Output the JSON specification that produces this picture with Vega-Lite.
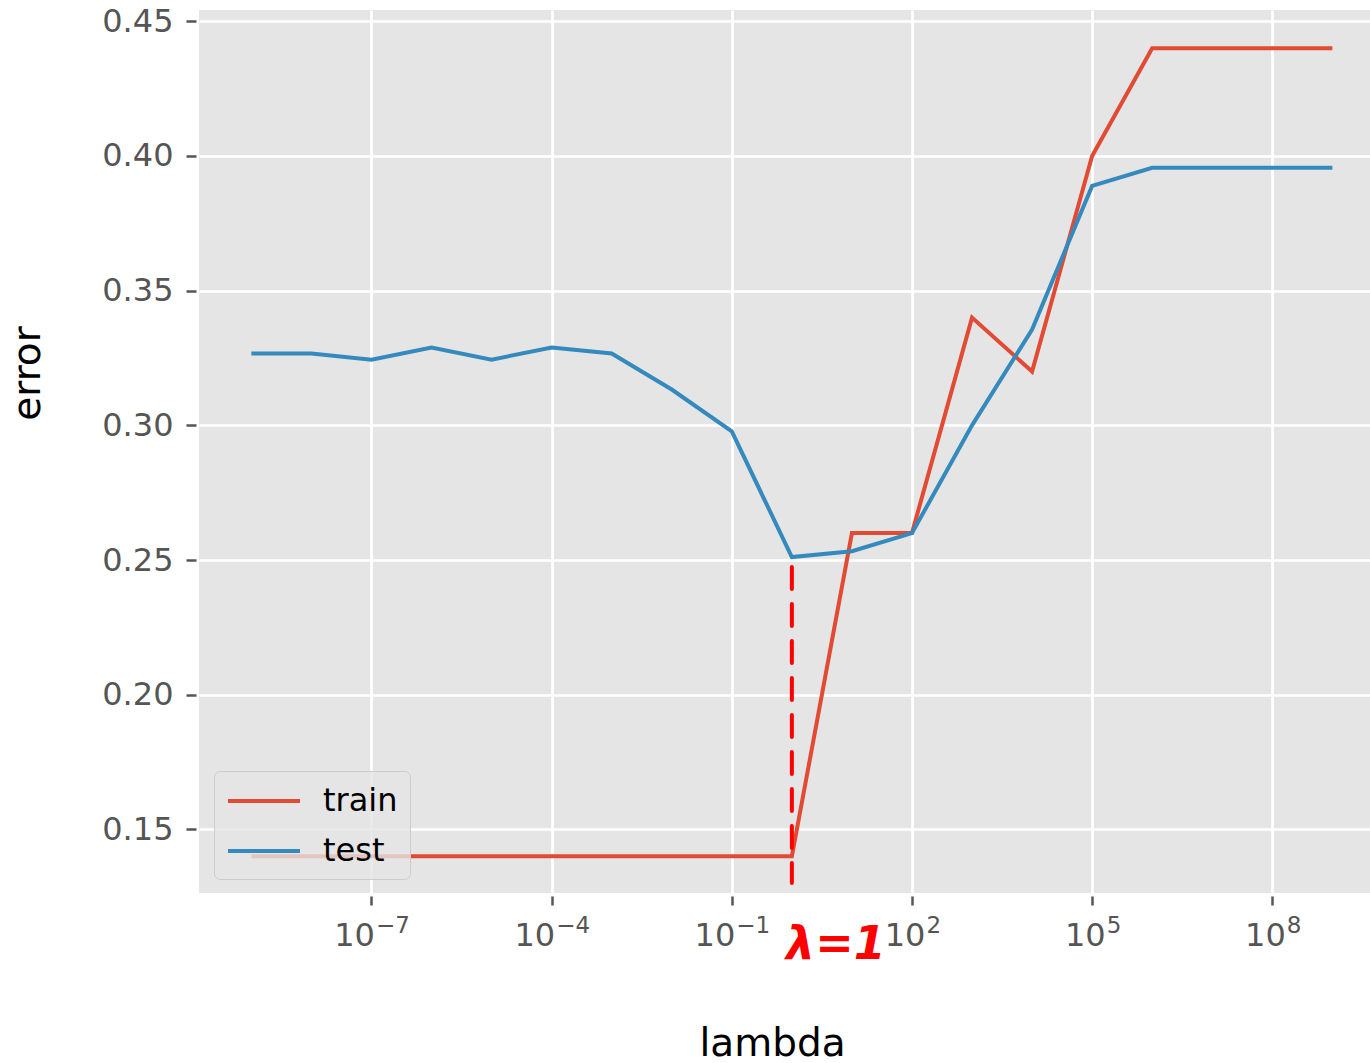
{
  "$schema": "https://vega.github.io/schema/vega-lite/v6.json",
  "width": 1171,
  "height": 883,
  "autosize": {"type": "none"},
  "padding": {"left": 199, "top": 10, "right": 0, "bottom": 170},
  "background": "#FFFFFF",
  "config": {
    "view": {"fill": "#E5E5E5", "stroke": null},
    "font": "DejaVu Sans"
  },
  "resolve": {"axis": {"x": "independent"}},
  "layer": [
    {
      "data": {
        "values": [
          {"lambda": 1e-9, "set": "train", "error": 0.14},
          {"lambda": 1e-8, "set": "train", "error": 0.14},
          {"lambda": 1e-7, "set": "train", "error": 0.14},
          {"lambda": 1e-6, "set": "train", "error": 0.14},
          {"lambda": 1e-5, "set": "train", "error": 0.14},
          {"lambda": 1e-4, "set": "train", "error": 0.14},
          {"lambda": 1e-3, "set": "train", "error": 0.14},
          {"lambda": 1e-2, "set": "train", "error": 0.14},
          {"lambda": 1e-1, "set": "train", "error": 0.14},
          {"lambda": 1e0, "set": "train", "error": 0.14},
          {"lambda": 1e1, "set": "train", "error": 0.26},
          {"lambda": 1e2, "set": "train", "error": 0.26},
          {"lambda": 1e3, "set": "train", "error": 0.34},
          {"lambda": 1e4, "set": "train", "error": 0.32},
          {"lambda": 1e5, "set": "train", "error": 0.40},
          {"lambda": 1e6, "set": "train", "error": 0.44},
          {"lambda": 1e7, "set": "train", "error": 0.44},
          {"lambda": 1e8, "set": "train", "error": 0.44},
          {"lambda": 1e9, "set": "train", "error": 0.44},
          {"lambda": 1e-9, "set": "test", "error": 0.3267},
          {"lambda": 1e-8, "set": "test", "error": 0.3267},
          {"lambda": 1e-7, "set": "test", "error": 0.3244},
          {"lambda": 1e-6, "set": "test", "error": 0.3289},
          {"lambda": 1e-5, "set": "test", "error": 0.3244},
          {"lambda": 1e-4, "set": "test", "error": 0.3289},
          {"lambda": 1e-3, "set": "test", "error": 0.3267},
          {"lambda": 1e-2, "set": "test", "error": 0.3133},
          {"lambda": 1e-1, "set": "test", "error": 0.2978},
          {"lambda": 1e0, "set": "test", "error": 0.2511},
          {"lambda": 1e1, "set": "test", "error": 0.2533},
          {"lambda": 1e2, "set": "test", "error": 0.26},
          {"lambda": 1e3, "set": "test", "error": 0.30},
          {"lambda": 1e4, "set": "test", "error": 0.3356},
          {"lambda": 1e5, "set": "test", "error": 0.3889},
          {"lambda": 1e6, "set": "test", "error": 0.3956},
          {"lambda": 1e7, "set": "test", "error": 0.3956},
          {"lambda": 1e8, "set": "test", "error": 0.3956},
          {"lambda": 1e9, "set": "test", "error": 0.3956}
        ]
      },
      "mark": {"type": "line", "strokeWidth": 4, "clip": true},
      "encoding": {
        "x": {
          "field": "lambda",
          "type": "quantitative",
          "title": "lambda",
          "scale": {"type": "log", "domain": [1.343e-10, 4.236e9], "nice": false},
          "axis": {
            "orient": "bottom",
            "values": [1e-7, 1e-4, 1e-1, 1e2, 1e5, 1e8],
            "labelExpr": "'10'",
            "domain": false,
            "grid": true,
            "gridColor": "#FFFFFF",
            "gridWidth": 2.7,
            "ticks": true,
            "tickColor": "#555555",
            "tickWidth": 2.5,
            "tickSize": 9,
            "offset": 3,
            "labelFont": "DejaVu Sans",
            "labelFontSize": 32,
            "labelColor": "#555555",
            "labelAlign": "right",
            "labelBaseline": "alphabetic",
            "labelOffset": {"condition": {"test": "datum.value < 1", "value": 3}, "value": 13},
            "labelPadding": 40,
            "labelFlush": false,
            "labelOverlap": false,
            "titleFont": "DejaVu Sans",
            "titleFontSize": 39,
            "titleFontWeight": "normal",
            "titleColor": "#000000",
            "titleX": 573,
            "titleY": 159,
            "titleAlign": "center",
            "titleBaseline": "alphabetic"
          }
        },
        "y": {
          "field": "error",
          "type": "quantitative",
          "title": "error",
          "scale": {"domain": [0.1264, 0.4542], "nice": false, "zero": false},
          "axis": {
            "values": [0.15, 0.20, 0.25, 0.30, 0.35, 0.40, 0.45],
            "format": ".2f",
            "domain": false,
            "grid": true,
            "gridColor": "#FFFFFF",
            "gridWidth": 2.7,
            "ticks": true,
            "tickColor": "#555555",
            "tickWidth": 2.5,
            "tickSize": 10,
            "offset": 3,
            "labelFont": "DejaVu Sans",
            "labelFontSize": 32,
            "labelColor": "#555555",
            "labelPadding": 13,
            "labelOverlap": false,
            "titleFont": "DejaVu Sans",
            "titleFontSize": 39,
            "titleFontWeight": "normal",
            "titleColor": "#000000",
            "titleAngle": 270,
            "titleX": -157,
            "titleY": 363,
            "titleAlign": "center",
            "titleBaseline": "alphabetic"
          }
        },
        "color": {
          "field": "set",
          "type": "nominal",
          "scale": {"domain": ["train", "test"], "range": ["#E24A33", "#348ABD"]},
          "legend": {
            "title": null,
            "orient": "none",
            "legendX": 15,
            "legendY": 761,
            "symbolType": "M-2.25,0H2.25",
            "symbolSize": 1024,
            "symbolStrokeWidth": 4,
            "symbolOffset": 20,
            "labelFont": "DejaVu Sans",
            "labelFontSize": 32,
            "labelColor": "#000000",
            "labelOffset": 41,
            "fillColor": "rgba(229,229,229,0.8)",
            "strokeColor": "#CCCCCC",
            "cornerRadius": 6,
            "padding": 12,
            "rowPadding": 16
          }
        }
      }
    },
    {
      "data": {"values": [{"lambda": 1, "error": 0.2474, "error_end": 0.1301}]},
      "mark": {"type": "rule", "color": "#FF0000", "strokeWidth": 4, "strokeDash": [22, 15], "strokeCap": "round"},
      "encoding": {
        "x": {
          "field": "lambda",
          "type": "quantitative",
          "title": null,
          "scale": {"type": "log", "domain": [1.343e-10, 4.236e9], "nice": false},
          "axis": {
            "orient": "bottom",
            "values": [1e-7, 1e-4, 1e-1, 1e2, 1e5, 1e8],
            "labelExpr": "datum.value < 1e-6 ? '−7' : datum.value < 1e-3 ? '−4' : datum.value < 1 ? '−1' : datum.value < 1e3 ? '2' : datum.value < 1e6 ? '5' : '8'",
            "domain": false,
            "grid": false,
            "ticks": true,
            "tickOpacity": 0,
            "tickSize": 9,
            "offset": 3,
            "labelFont": "DejaVu Sans",
            "labelFontSize": 23,
            "labelColor": "#555555",
            "labelAlign": "left",
            "labelBaseline": "alphabetic",
            "labelOffset": {"condition": {"test": "datum.value < 1", "value": 4}, "value": 14},
            "labelPadding": 27,
            "labelFlush": false,
            "labelOverlap": false
          }
        },
        "y": {"field": "error", "type": "quantitative", "title": "error"},
        "y2": {"field": "error_end"}
      }
    },
    {
      "data": {"values": [{"lambda": 5.41, "error": 0.107, "note": "λ=1"}]},
      "mark": {"type": "text", "color": "#FF0000", "font": "DejaVu Sans", "fontSize": 46, "fontWeight": "bold", "fontStyle": "italic", "align": "center", "baseline": "middle"},
      "encoding": {
        "x": {
          "field": "lambda",
          "type": "quantitative",
          "scale": {"type": "log", "domain": [1.343e-10, 4.236e9], "nice": false},
          "axis": null
        },
        "y": {"field": "error", "type": "quantitative", "title": "error"},
        "text": {"field": "note"}
      }
    }
  ]
}
